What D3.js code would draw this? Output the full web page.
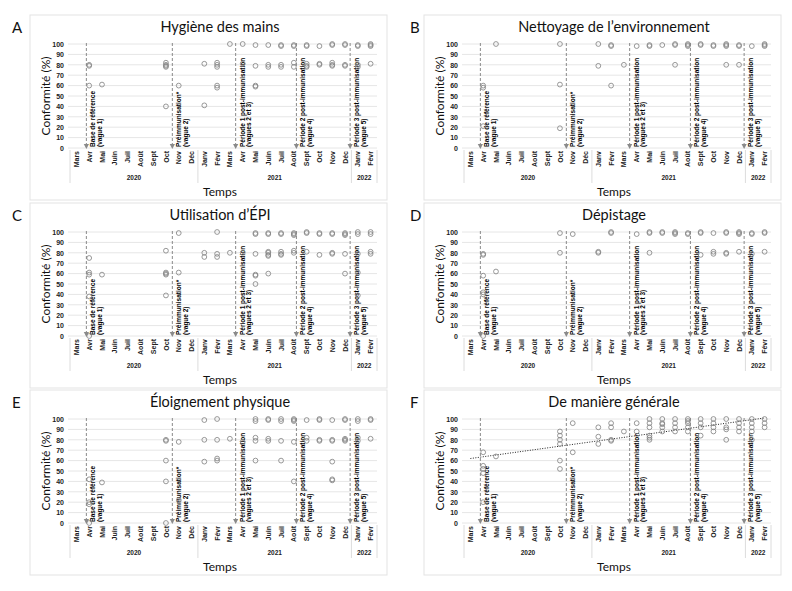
<!DOCTYPE html>
<html><head><meta charset="utf-8">
<script src="https://cdn.jsdelivr.net/npm/d3@7"></script>
<style>body{margin:0;background:#fff}</style></head>
<body>
<svg id="c" width="792" height="591"></svg>
<script>
// ---------- data ----------
const months = ["Mars","Avr","Mai","Juin","Juil","Août","Sept","Oct","Nov","Déc","Janv","Févr",
                "Mars","Avr","Mai","Juin","Juil","Août","Sept","Oct","Nov","Déc","Janv","Févr"];
const yearLabels = ["2020","2021","2022"];
const yearFirstMonth = [0,10,22];
const yearLastMonth = [9,21,23];
const yTicks = [0,10,20,30,40,50,60,70,80,90,100];

const waveLabels = [
  ["Base de référence","(vague 1)"],
  ["Préimmunisation*","(vague 2)"],
  ["Période 1 post-immunisation","(vagues 2 et 3)"],
  ["Période 2 post-immunisation","(vague 4)"],
  ["Période 3 post-immunisation","(vague 5)"]
];
const wavePositions = [0.78, 7.5, 12.45, 17.2, 21.4];

// values per month (index into months)
const hygieneMains = [[],[80,79,60],[61],[],[],[],[],[82,80,79,78,40],[60],[],[81,41],[82,80,78,60,58],
  [100],[100,81],[99,79,60,59],[99,80,78],[99,98,80,78],[99,98,82,78],[99,98,81,79,78],[98,81,80],[100,99,82,80,79],[100,99,80,79],[99,98,80,78],[100,99,98,81]];
const nettoyage = [[],[60,58,21],[100],[],[],[],[],[100,61,19],[],[],[100,79],[99,98,60],
  [80],[98],[99,98],[99],[100,99,80],[100,99,98],[100,99],[99,98],[100,99,98,80],[99,98,80],[98],[100,99,98]];
const utilisationEPI = [[],[75,61,59,38,0],[59],[],[],[],[],[82,61,60,59,39],[99,61],[],[80,76],[100,79,76],
  [80],[80],[99,98,79,59,58,50],[99,98,81,80,78,77,60],[99,98,81,79,78],[99,98,97,82,80],[100,99,81],[99,98,78],[99,98,80,79],[99,98,97,79,60],[100,98,79,61,39],[100,98,81,79]];
const depistage = [[],[79,78,58,42,40,0],[62],[],[],[],[],[99,80],[98],[],[81,80],[100,99],
  [],[98],[100,99,80],[100,99],[100,99,98],[99,98],[100,99,78],[99,81,79],[100,99,80,79],[100,99,98,81],[99,98,79],[100,99,81]];
const eloignement = [[],[42,20,18,0],[39],[],[],[],[],[80,79,60,40,0],[78,22],[],[99,80,59],[100,80,62,60],
  [81],[78],[100,98,82,79,60],[100,99,81,79],[100,98,79,60],[100,99,98,78,40],[99,82,79],[100,99,80,79],[99,80,79,59,42,41],[100,99,81,80,79],[100,98,82,79],[100,99,81]];
const generale = [[],[68,55,52,48,20],[64],[],[],[],[],[88,84,80,76,60,52],[96,68],[],[92,83,76],[96,92,80,79],
  [88],[96,88],[100,96,92,84,82,80],[100,96,95,92,88],[100,96,92,88],[100,98,96,92,88],[100,96,92,84],[100,96,92,88],[100,92,90,80],[100,96,92,88],[100,96,92,88,80],[100,96,92]];
// linear trend (panel F): value at first month, value at last month
const generaleTrend = [62, 101];

const panels = [
  {letter:"A", title:"Hygiène des mains", values:hygieneMains, col:0, row:0},
  {letter:"B", title:"Nettoyage de l’environnement", values:nettoyage, col:1, row:0},
  {letter:"C", title:"Utilisation d’ÉPI", values:utilisationEPI, col:0, row:1},
  {letter:"D", title:"Dépistage", values:depistage, col:1, row:1},
  {letter:"E", title:"Éloignement physique", values:eloignement, col:0, row:2},
  {letter:"F", title:"De manière générale", values:generale, col:1, row:2, trend:generaleTrend}
];

// ---------- drawing ----------
const svg = d3.select("#c");
const colX = [0, 394], rowY = [0, 188, 375];
const titleFont = "Lato, 'Open Sans', sans-serif";
const smallFont = "'Liberation Sans', Arial, sans-serif";
const narrowFont = "'Liberation Sans Narrow','Arial Narrow','Liberation Sans',sans-serif";

panels.forEach(p => {
  const g = svg.append("g").attr("transform", `translate(${colX[p.col]},${rowY[p.row]})`);
  g.append("rect").attr("x",30).attr("y",15).attr("width",357).attr("height",185)
    .attr("fill","none").attr("stroke","#e3e3e3").attr("stroke-width",1);
  g.append("text").text(p.letter).attr("x", p.col ? 16 : 12).attr("y",33)
    .attr("font-family",titleFont).attr("font-size",15).attr("fill","#111");
  g.append("text").text(p.title).attr("x",220).attr("y",32).attr("text-anchor","middle")
    .attr("font-family",titleFont).attr("font-size",14.5).attr("fill","#111");

  const x = d3.scaleLinear().domain([-0.5, 23.5]).range([70, 377]);
  const y = d3.scaleLinear().domain([0, 100]).range([148, 44]);

  // grid
  g.append("g").selectAll("line").data(yTicks).join("line")
    .attr("x1",68).attr("x2",377).attr("y1",d=>y(d)).attr("y2",d=>y(d))
    .attr("stroke","#e6e6e6").attr("stroke-width",1);

  // y axis
  const ya = g.append("g").attr("transform","translate(66,0)")
    .call(d3.axisLeft(y).tickValues(yTicks).tickSize(0).tickPadding(2));
  ya.select(".domain").remove();
  ya.selectAll("text").attr("font-family",smallFont).attr("font-size",7).attr("font-weight","bold").attr("fill","#222");

  g.append("text").text("Conformité (%)")
    .attr("transform",`translate(50,${y(50)}) rotate(-90)`).attr("text-anchor","middle")
    .attr("font-family",titleFont).attr("font-size",12).attr("fill","#111");

  // x axis: months
  g.append("g").selectAll("text").data(months).join("text")
    .text(d=>d)
    .attr("transform",(d,i)=>`translate(${x(i)+2.6},151) rotate(-90)`)
    .attr("text-anchor","end")
    .attr("font-family",smallFont).attr("font-size",7).attr("font-weight","bold").attr("fill","#222");
  // year separators
  const seps = [x(-0.5), x(yearLastMonth[0]+0.5), x(yearLastMonth[1]+0.5), x(23.5)];
  g.append("g").selectAll("line").data(seps).join("line")
    .attr("x1",d=>d).attr("x2",d=>d).attr("y1",150).attr("y2",183)
    .attr("stroke","#dcdcdc").attr("stroke-width",1);
  g.append("g").selectAll("text").data(yearLabels).join("text")
    .text(d=>d)
    .attr("x",(d,i)=>(x(yearFirstMonth[i]-0.5)+x(yearLastMonth[i]+0.5))/2)
    .attr("y",180).attr("text-anchor","middle")
    .attr("font-family",smallFont).attr("font-size",6.5).attr("font-weight","bold").attr("fill","#222");
  g.append("text").text("Temps").attr("x",220).attr("y",196).attr("text-anchor","middle")
    .attr("font-family",titleFont).attr("font-size",12).attr("fill","#111");

  // wave markers
  wavePositions.forEach((wp,i) => {
    const xx = x(wp);
    g.append("line").attr("x1",xx).attr("x2",xx).attr("y1",y(100)-1).attr("y2",y(0)-3)
      .attr("stroke","#8a8a8a").attr("stroke-width",1).attr("stroke-dasharray","3,2");
    g.append("path").attr("d",`M${xx-2.6},${y(0)-4}L${xx+2.6},${y(0)-4}L${xx},${y(0)+1}Z`).attr("fill","#8a8a8a");
    waveLabels[i].forEach((t,j) => {
      g.append("text").text(t)
        .attr("transform",`translate(${xx+9+j*6.5},${y(0)-1}) rotate(-90)`)
        .attr("font-family",narrowFont).attr("font-size",6.5).attr("font-weight","bold").attr("fill","#000");
    });
  });

  // trend
  if (p.trend) {
    g.append("line").attr("x1",x(0)).attr("x2",x(23)).attr("y1",y(p.trend[0])).attr("y2",y(p.trend[1]))
      .attr("stroke","#222").attr("stroke-width",1).attr("stroke-dasharray","1,1.5");
  }

  // points
  const pts = [];
  p.values.forEach((arr,i) => arr.forEach(v => pts.push([i,v])));
  g.append("g").selectAll("circle").data(pts).join("circle")
    .attr("cx",d=>x(d[0])).attr("cy",d=>y(d[1])).attr("r",2.4)
    .attr("fill","none").attr("stroke","#858585").attr("stroke-width",0.85);
});
</script>
</body></html>
